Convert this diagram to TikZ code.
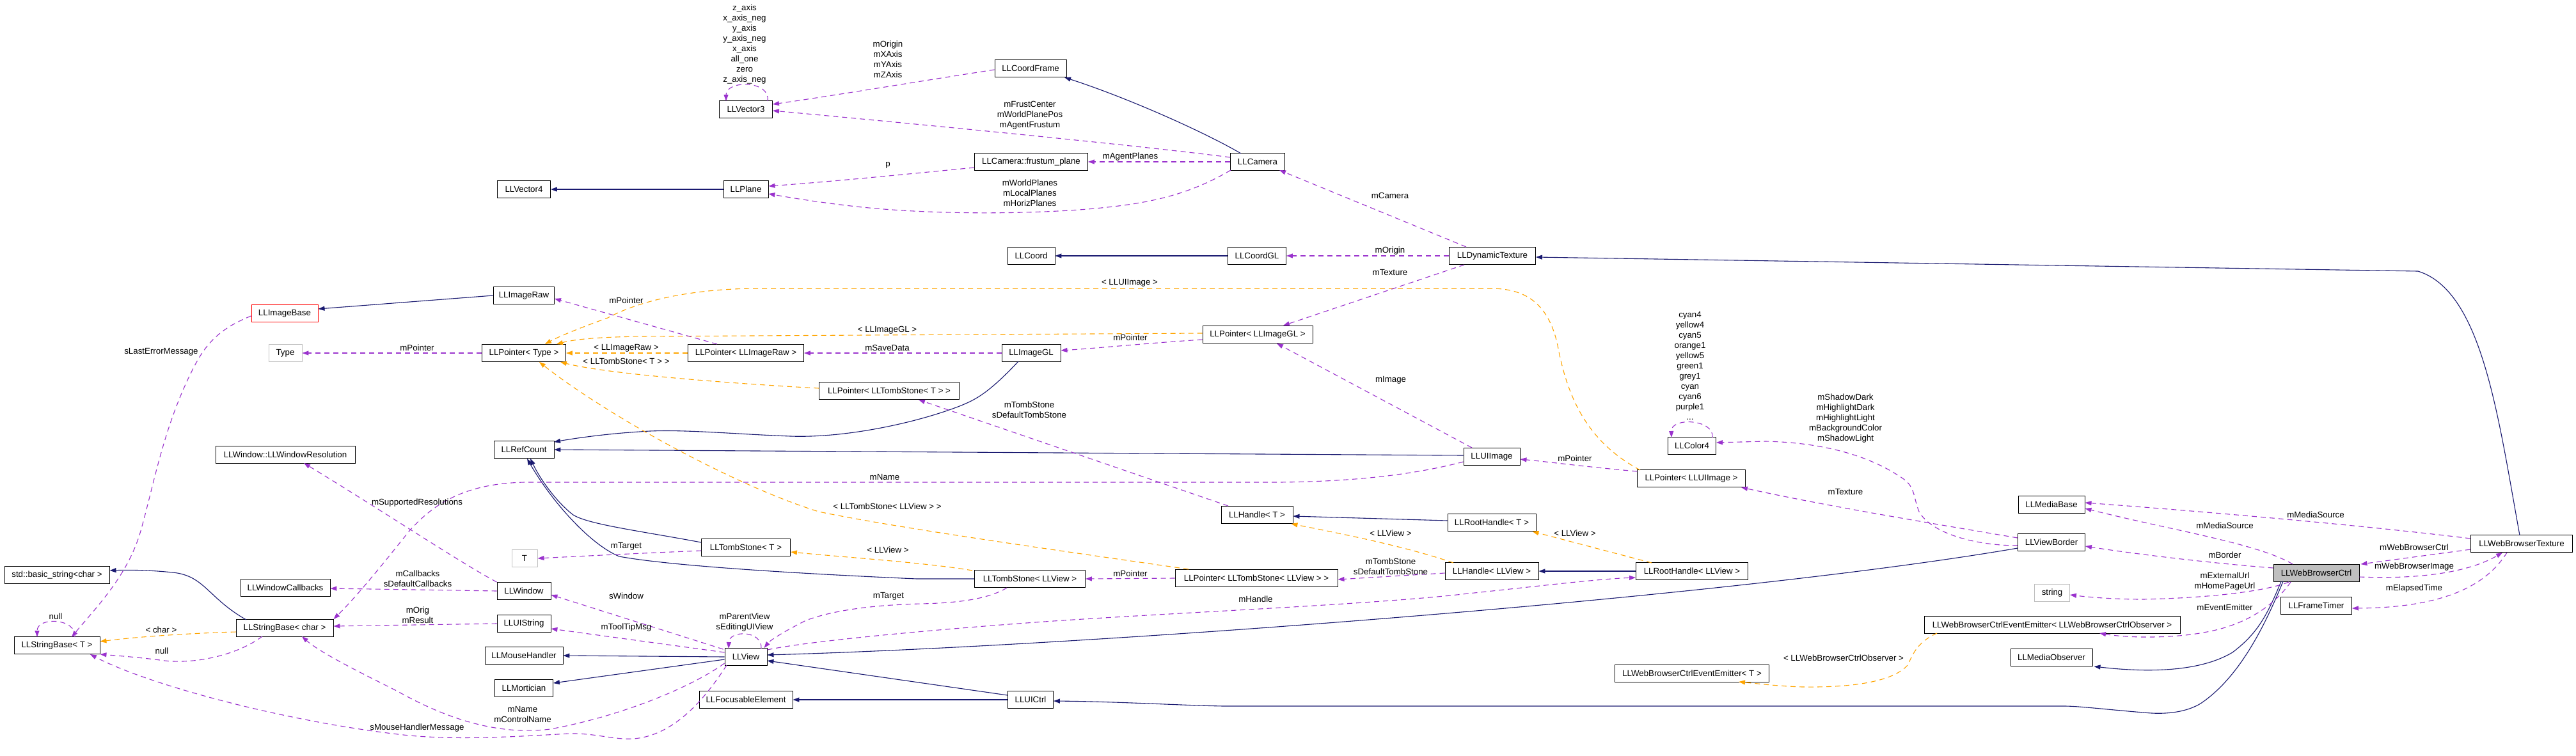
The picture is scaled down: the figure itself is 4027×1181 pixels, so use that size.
\documentclass[tikz,border=0pt]{standalone}
\usepackage{fontspec}
\setmainfont{Liberation Sans}
\usetikzlibrary{arrows.meta,calc}
\definecolor{inhc}{HTML}{191970}
\definecolor{usec}{HTML}{9A32CD}
\definecolor{tmpc}{HTML}{FFA500}
\definecolor{greyb}{HTML}{BFBFBF}
\newcommand\lblfont{\fontsize{13.3}{16}\selectfont}
\begin{document}
\begin{tikzpicture}[x=1pt,y=-1pt,
 cls/.style={draw=black,line width=0.9pt,fill=white,inner sep=0pt,minimum height=27pt,font=\lblfont},
 redb/.style={draw=red},
 greyd/.style={draw=greyb},
 hl/.style={fill=greyb},
 lab/.style={inner sep=0pt,align=center,font=\lblfont},
 inh/.style={draw=inhc,line width=1.1pt,-{Triangle[length=10pt,width=7pt]}},
 use/.style={draw=usec,line width=1.1pt,dash pattern=on 8pt off 6pt,-{Triangle[length=10pt,width=7pt]}},
 tmp/.style={draw=tmpc,line width=1.1pt,dash pattern=on 8pt off 6pt,-{Triangle[length=10pt,width=7pt]}}]
\useasboundingbox[fill=white] (0,0) rectangle (4027,1181);
% ---------------- nodes
\node[cls,minimum width=83pt] (LLVector3) at (1166,171) {LLVector3};
\node[cls,minimum width=112pt] (LLCoordFrame) at (1611,107) {LLCoordFrame};
\node[cls,minimum width=177pt] (LLCamerafp) at (1612,253) {LLCamera::frustum\_plane};
\node[cls,minimum width=70pt] (LLPlane) at (1166,296) {LLPlane};
\node[cls,minimum width=83pt] (LLVector4) at (819,296) {LLVector4};
\node[cls,minimum width=85pt] (LLCamera) at (1966,253) {LLCamera};
\node[cls,minimum width=74pt] (LLCoord) at (1612,400) {LLCoord};
\node[cls,minimum width=91pt] (LLCoordGL) at (1965,400) {LLCoordGL};
\node[cls,minimum width=135pt] (LLDynamicTexture) at (2333,400) {LLDynamicTexture};
\node[cls,minimum width=95pt] (LLImageRaw) at (819,462) {LLImageRaw};
\node[cls,redb,minimum width=104pt] (LLImageBase) at (445,490) {LLImageBase};
\node[cls,greyd,minimum width=52pt] (Type) at (446,552) {Type};
\node[cls,minimum width=131pt] (LLPointerType) at (819,552) {LLPointer< Type >};
\node[cls,minimum width=181pt] (LLPointerImageRaw) at (1166,552) {LLPointer< LLImageRaw >};
\node[cls,minimum width=92pt] (LLImageGL) at (1612,552) {LLImageGL};
\node[cls,minimum width=172pt] (LLPointerImageGL) at (1966,523) {LLPointer< LLImageGL >};
\node[cls,minimum width=219pt] (LLPointerTombT) at (1390,611) {LLPointer< LLTombStone< T > >};
\node[cls,minimum width=94pt] (LLRefCount) at (819,703) {LLRefCount};
\node[cls,minimum width=88pt] (LLUIImage) at (2332,714) {LLUIImage};
\node[cls,minimum width=75pt] (LLColor4) at (2645,697) {LLColor4};
\node[cls,minimum width=169pt] (LLPointerUIImage) at (2644,748) {LLPointer< LLUIImage >};
\node[cls,minimum width=218pt] (LLWindowResolution) at (446,711) {LLWindow::LLWindowResolution};
\node[cls,minimum width=112pt] (LLHandleT) at (1965,805) {LLHandle< T >};
\node[cls,minimum width=138pt] (LLRootHandleT) at (2332,817) {LLRootHandle< T >};
\node[cls,minimum width=139pt] (LLTombStoneT) at (1166,856) {LLTombStone< T >};
\node[cls,greyd,minimum width=40pt] (T) at (820,873) {T};
\node[cls,minimum width=146pt] (LLHandleView) at (2332,893) {LLHandle< LLView >};
\node[cls,minimum width=175pt] (LLRootHandleView) at (2645,893) {LLRootHandle< LLView >};
\node[cls,minimum width=173pt] (LLTombStoneView) at (1610,905) {LLTombStone< LLView >};
\node[cls,minimum width=254pt] (LLPointerTombView) at (1964,904) {LLPointer< LLTombStone< LLView > >};
\node[cls,minimum width=164pt] (stdbasicstring) at (89,899) {std::basic\_string<char >};
\node[cls,minimum width=140pt] (LLWindowCallbacks) at (446,919) {LLWindowCallbacks};
\node[cls,minimum width=84pt] (LLWindow) at (819,924) {LLWindow};
\node[cls,minimum width=84pt] (LLUIString) at (819,975) {LLUIString};
\node[cls,minimum width=152pt] (LLStringBaseChar) at (445,982) {LLStringBase< char >};
\node[cls,minimum width=134pt] (LLStringBaseT) at (89,1009) {LLStringBase< T >};
\node[cls,minimum width=122pt] (LLMouseHandler) at (819,1025) {LLMouseHandler};
\node[cls,minimum width=91pt] (LLMortician) at (819,1076) {LLMortician};
\node[cls,minimum width=66pt] (LLView) at (1166,1027) {LLView};
\node[cls,minimum width=146pt] (LLFocusableElement) at (1166,1094) {LLFocusableElement};
\node[cls,minimum width=71pt] (LLUICtrl) at (1611,1094) {LLUICtrl};
\node[cls,minimum width=104pt] (LLMediaBase) at (3207,789) {LLMediaBase};
\node[cls,minimum width=105pt] (LLViewBorder) at (3207,848) {LLViewBorder};
\node[cls,greyd,minimum width=55pt] (string) at (3208,927) {string};
\node[cls,minimum width=400pt] (EEObs) at (3208,977) {LLWebBrowserCtrlEventEmitter< LLWebBrowserCtrlObserver >};
\node[cls,minimum width=128pt] (LLMediaObserver) at (3207,1028) {LLMediaObserver};
\node[cls,minimum width=241pt] (EET) at (2645,1053) {LLWebBrowserCtrlEventEmitter< T >};
\node[cls,hl,minimum width=134pt] (LLWebBrowserCtrl) at (3621,896) {LLWebBrowserCtrl};
\node[cls,minimum width=111pt] (LLFrameTimer) at (3621,947) {LLFrameTimer};
\node[cls,minimum width=159pt] (LLWebBrowserTexture) at (3942,850) {LLWebBrowserTexture};
% ---------------- inheritance
\draw[inh] ($(LLCamera)+(-26,-13)$) .. controls (1880,205) and (1760,152) .. ($(LLCoordFrame)+(53,14)$);
\draw[inh] (LLPlane.west) -- (LLVector4.east);
\draw[inh] (LLCoordGL.west) -- (LLCoord.east);
\draw[inh] ($(LLWebBrowserTexture)+(-3,-13)$) .. controls (3905,650) and (3880,455) .. (3780,424) -- ($(LLDynamicTexture.east)+(0,2)$);
\draw[inh] (LLImageRaw.west) -- ($(LLImageBase.east)+(0,-7)$);
\draw[inh] ($(LLImageGL)+(-20,13)$) .. controls (1545,615) and (1525,625) .. (1500,635) .. controls (1430,662) and (1320,685) .. (1236,682) .. controls (1150,679) and (1060,670) .. (1000,675) .. controls (950,678) and (900,685) .. ($(LLRefCount)+(47,-12)$);
\draw[inh] ($(LLUIImage.west)+(0,-2)$) -- (LLRefCount.east);
\draw[inh] ($(LLTombStoneT.west)+(0,-8)$) .. controls (1000,830) and (920,820) .. (896,805) .. controls (870,785) and (845,750) .. ($(LLRefCount)+(10,14)$);
\draw[inh] (LLTombStoneView.west) -- (1433,905) .. controls (1250,897) and (1050,885) .. (968,870) .. controls (920,850) and (860,780) .. ($(LLRefCount)+(5,14)$);
\draw[inh] ($(LLRootHandleT.west)+(0,-3)$) -- ($(LLHandleT.east)+(0,2)$);
\draw[inh] (LLRootHandleView.west) -- (LLHandleView.east);
\draw[inh] (LLView.west) -- (LLMouseHandler.east);
\draw[inh] ($(LLView.west)+(0,4)$) -- ($(LLMortician.east)+(0,-8)$);
\draw[inh] ($(LLViewBorder.west)+(0,9)$) .. controls (2700,935) and (1700,1010) .. ($(LLView.east)+(0,-3)$);
\draw[inh] ($(LLUICtrl.west)+(0,-7)$) -- ($(LLView.east)+(0,6)$);
\draw[inh] (LLUICtrl.west) -- (LLFocusableElement.east);
\draw[inh] ($(LLWebBrowserCtrl)+(-52,13)$) .. controls (3540,980) and (3500,1060) .. (3440,1100) .. controls (3410,1118) and (3370,1116) .. (3351,1114) .. controls (3300,1110) and (3250,1104) .. (3228,1104) -- (1913,1104) .. controls (1850,1103) and (1750,1097) .. ($(LLUICtrl.east)+(0,2)$);
\draw[inh] ($(LLWebBrowserCtrl)+(-55,13)$) .. controls (3545,960) and (3530,990) .. (3490,1020) .. controls (3440,1050) and (3360,1052) .. ($(LLMediaObserver.south east)+(2,0)$);
\draw[inh] ($(LLStringBaseChar)+(-60,-13)$) .. controls (325,935) and (320,900) .. (270,895) .. controls (230,891) and (200,891) .. ($(stdbasicstring.east)+(0,-7)$);
% ---------------- templates
\draw[tmp] (LLPointerImageRaw.west) -- (LLPointerType.east);
\draw[tmp] ($(LLPointerTombT.west)+(0,-4)$) .. controls (1150,600) and (950,585) .. ($(LLPointerType.south east)+(-9,0)$);
\draw[tmp] ($(LLPointerImageGL.west)+(0,-2)$) -- (1000,526) .. controls (940,527) and (900,530) .. ($(LLPointerType.north east)+(-15,0)$);
\draw[tmp] ($(LLPointerUIImage)+(-80,-13)$) .. controls (2480,690) and (2450,620) .. (2435,540) .. controls (2420,470) and (2380,451) .. (2330,451) -- (1180,451) .. controls (1080,452) and (1000,470) .. (950,497) .. controls (900,515) and (870,528) .. ($(LLPointerType.north east)+(-33,0)$);
\draw[tmp] ($(LLPointerTombView)+(-106,-14)$) .. controls (1650,860) and (1400,825) .. (1280,800) .. controls (1150,760) and (950,650) .. ($(LLPointerType.south east)+(-42,0)$);
\draw[tmp] ($(LLTombStoneView)+(-90,-13)$) .. controls (1450,880) and (1330,872) .. ($(LLTombStoneT.east)+(0,7)$);
\draw[tmp] ($(LLHandleView)+(-60,-13)$) .. controls (2200,855) and (2100,835) .. ($(LLHandleT.south east)+(-3,0)$);
\draw[tmp] ($(LLRootHandleView)+(-63,-13)$) -- ($(LLRootHandleT.south east)+(-6,0)$);
\draw[tmp] ($(LLStringBaseChar.west)+(0,6)$) .. controls (300,990) and (220,995) .. ($(LLStringBaseT.east)+(0,-6)$);
\draw[tmp] ($(EEObs)+(-180,13)$) .. controls (2995,1005) and (2990,1025) .. (2982,1040) .. controls (2960,1065) and (2900,1075) .. (2818,1074) .. controls (2780,1073) and (2740,1068) .. ($(EET)+(73,13)$);
% ---------------- usage
\draw[use] ($(LLCoordFrame.west)+(0,2)$) .. controls (1450,125) and (1300,150) .. ($(LLVector3.east)+(0,-8)$);
\draw[use] ($(LLCamera.west)+(0,-7)$) .. controls (1800,230) and (1500,200) .. ($(LLVector3.east)+(0,2)$);
\draw[use] ($(LLVector3)+(34,-13)$) .. controls (1205,125) and (1135,125) .. ($(LLVector3)+(-31,-13)$);
\draw[use] (LLCamera.west) -- (LLCamerafp.east);
\draw[use] ($(LLCamerafp.west)+(0,9)$) .. controls (1420,272) and (1300,284) .. ($(LLPlane.east)+(0,-5)$);
\draw[use] ($(LLCamera)+(-42,13)$) .. controls (1850,310) and (1780,320) .. (1700,327) .. controls (1600,335) and (1450,336) .. (1330,322) .. controls (1270,315) and (1230,308) .. ($(LLPlane.east)+(0,7)$);
\draw[use] ($(LLDynamicTexture)+(-41,-14)$) -- ($(LLCamera)+(34,13)$);
\draw[use] (LLDynamicTexture.west) -- (LLCoordGL.east);
\draw[use] ($(LLDynamicTexture)+(-44,14)$) -- ($(LLPointerImageGL)+(40,-14)$);
\draw[use] ($(LLPointerImageGL.west)+(0,8)$) .. controls (1800,536) and (1720,544) .. ($(LLImageGL.east)+(0,-4)$);
\draw[use] (LLImageGL.west) -- (LLPointerImageRaw.east);
\draw[use] ($(LLPointerImageRaw)+(-45,-14)$) -- ($(LLImageRaw.east)+(0,5)$);
\draw[use] (LLPointerType.west) -- (Type.east);
\draw[use] ($(LLImageBase.west)+(0,4)$) .. controls (340,515) and (320,540) .. (300,580) .. controls (255,670) and (240,760) .. (220,830) .. controls (200,900) and (150,950) .. ($(LLStringBaseT)+(23,-13)$);
\draw[use] ($(LLStringBaseT)+(28,-13)$) .. controls (120,966) and (58,964) .. ($(LLStringBaseT)+(-31,-13)$);
\draw[use] ($(LLStringBaseChar)+(-35,13)$) .. controls (370,1025) and (300,1040) .. (250,1032) .. controls (210,1027) and (180,1025) .. (LLStringBaseT.south east);
\draw[use] (LLWindow.west) -- ($(LLWindowCallbacks.east)+(0,1)$);
\draw[use] (LLWindow.north west) .. controls (720,880) and (600,800) .. ($(LLWindowResolution)+(29,13)$);
\draw[use] (LLUIString.west) -- ($(LLStringBaseChar.east)+(0,-3)$);
\draw[use] ($(LLView.north west)+(-2,2)$) -- ($(LLWindow.east)+(0,6)$);
\draw[use] ($(LLView.west)+(0,-7)$) -- ($(LLUIString.east)+(0,8)$);
\draw[use] ($(LLView)+(24,-13)$) .. controls (1192,985) and (1140,985) .. ($(LLView)+(-27,-13)$);
\draw[use] ($(LLTombStoneView)+(-36,14)$) .. controls (1540,940) and (1480,943) .. (1440,944) .. controls (1360,946) and (1300,955) .. (1260,970) .. controls (1230,985) and (1205,1000) .. ($(LLView.north east)+(-5,0)$);
\draw[use] ($(LLView.east)+(0,-11)$) .. controls (1260,1003) and (1450,985) .. (1632,972) .. controls (1850,957) and (2150,945) .. (2295,928) .. controls (2400,917) and (2500,905) .. ($(LLRootHandleView.west)+(0,10)$);
\draw[use] ($(LLView.west)+(0,10)$) .. controls (1080,1075) and (970,1120) .. (860,1140) .. controls (780,1150) and (700,1125) .. (620,1080) .. controls (560,1050) and (500,1020) .. ($(LLStringBaseChar)+(27,13)$);
\draw[use] ($(LLView)+(-30,13)$) .. controls (1110,1080) and (1060,1150) .. (990,1155) .. controls (960,1157) and (930,1146) .. (890,1147) .. controls (800,1152) and (720,1157) .. (640,1150) .. controls (450,1130) and (230,1070) .. ($(LLStringBaseT)+(52,14)$);
\draw[use] ($(LLUIImage.west)+(0,8)$) .. controls (2200,745) and (2100,753) .. (2000,754) -- (820,754) .. controls (730,756) and (680,785) .. (640,830) .. controls (600,880) and (560,930) .. (LLStringBaseChar.north east);
\draw[use] ($(LLPointerUIImage.west)+(0,-11)$) .. controls (2480,730) and (2420,722) .. ($(LLUIImage.east)+(0,4)$);
\draw[use] ($(LLUIImage)+(-31,-14)$) -- ($(LLPointerImageGL)+(30,14)$);
\draw[use] ($(LLHandleT)+(-45,-14)$) -- ($(LLPointerTombT)+(46,14)$);
\draw[use] ($(LLHandleView.west)+(0,3)$) -- ($(LLPointerTombView.east)+(0,2)$);
\draw[use] (LLPointerTombView.west) -- (LLTombStoneView.east);
\draw[use] ($(LLTombStoneT.west)+(0,5)$) .. controls (1000,865) and (900,870) .. (T.east);
\draw[use] ($(LLViewBorder.west)+(0,5)$) .. controls (3090,853) and (3020,835) .. (3000,800) .. controls (2990,775) and (2995,760) .. (2970,745) .. controls (2920,712) and (2850,692) .. (2760,690) -- ($(LLColor4.east)+(0,-5)$);
\draw[use] ($(LLViewBorder.west)+(0,-7)$) .. controls (3000,815) and (2850,790) .. ($(LLPointerUIImage)+(78,14)$);
\draw[use] ($(LLColor4)+(32,-13)$) .. controls (2680,655) and (2612,652) .. ($(LLColor4)+(-32,-13)$);
\draw[use] ($(LLWebBrowserCtrl)+(-37,-14)$) .. controls (3530,850) and (3400,830) .. ($(LLMediaBase.east)+(0,6)$);
\draw[use] ($(LLWebBrowserTexture.west)+(0,-8)$) .. controls (3700,822) and (3450,800) .. ($(LLMediaBase.east)+(0,-3)$);
\draw[use] ($(LLWebBrowserCtrl.west)+(0,-8)$) .. controls (3450,880) and (3330,865) .. ($(LLViewBorder.east)+(0,6)$);
\draw[use] ($(LLWebBrowserCtrl)+(-43,14)$) .. controls (3540,925) and (3450,935) .. (3350,937) .. controls (3300,937) and (3260,933) .. ($(string.east)+(0,3)$);
\draw[use] ($(LLWebBrowserCtrl)+(-40,14)$) .. controls (3560,940) and (3520,975) .. (3450,988) .. controls (3400,998) and (3330,998) .. ($(EEObs)+(74,13)$);
\draw[use] ($(LLWebBrowserTexture.west)+(0,9)$) -- ($(LLWebBrowserCtrl.north east)+(2,0)$);
\draw[use] ($(LLWebBrowserCtrl.east)+(0,6)$) .. controls (3760,905) and (3850,900) .. ($(LLWebBrowserTexture)+(-30,14)$);
\draw[use] ($(LLWebBrowserTexture)+(-23,14)$) .. controls (3890,910) and (3830,950) .. ($(LLFrameTimer.east)+(0,4)$);
% ---------------- labels
\node[lab] (lV3) at (1164,69) {z\_axis\\x\_axis\_neg\\y\_axis\\y\_axis\_neg\\x\_axis\\all\_one\\zero\\z\_axis\_neg};
\node[lab] (lCF) at (1388,93) {mOrigin\\mXAxis\\mYAxis\\mZAxis};
\node[lab] (lFC) at (1610,180) {mFrustCenter\\mWorldPlanePos\\mAgentFrustum};
\node[lab] (lAP) at (1767,245) {mAgentPlanes};
\node[lab] (lp) at (1388,258) {p};
\node[lab] (lWP) at (1610,302) {mWorldPlanes\\mLocalPlanes\\mHorizPlanes};
\node[lab] (lCam) at (2173,306) {mCamera};
\node[lab] (lOr) at (2173,392) {mOrigin};
\node[lab] (lTex) at (2173,426) {mTexture};
\node[lab] (lUII) at (1766,442) {< LLUIImage >};
\node[lab] (lIGL) at (1387,516) {< LLImageGL >};
\node[lab] (lPtr1) at (1767,528) {mPointer};
\node[lab] (lSD) at (1387,544) {mSaveData};
\node[lab] (lIR) at (979,544) {< LLImageRaw >};
\node[lab] (lTST) at (979,565) {< LLTombStone< T > >};
\node[lab] (lPtr2) at (652,544) {mPointer};
\node[lab] (lLEM) at (252,550) {sLastErrorMessage};
\node[lab] (lPtr3) at (979,470) {mPointer};
\node[lab] (lImg) at (2174,594) {mImage};
\node[lab] (lTS1) at (1609,641) {mTombStone\\sDefaultTombStone};
\node[lab] (lPtr4) at (2462,717) {mPointer};
\node[lab] (lCol) at (2642,572) {cyan4\\yellow4\\cyan5\\orange1\\yellow5\\green1\\grey1\\cyan\\cyan6\\purple1\\...};
\node[lab] (lName) at (1383,746) {mName};
\node[lab] (lSR) at (652,786) {mSupportedResolutions};
\node[lab] (lTSV) at (1387,792) {< LLTombStone< LLView > >};
\node[lab] (lSh) at (2885,654) {mShadowDark\\mHighlightDark\\mHighlightLight\\mBackgroundColor\\mShadowLight};
\node[lab] (lTex2) at (2885,769) {mTexture};
\node[lab] (lMS1) at (3620,805) {mMediaSource};
\node[lab] (lMS2) at (3478,822) {mMediaSource};
\node[lab] (lV1) at (2174,834) {< LLView >};
\node[lab] (lV2) at (2462,834) {< LLView >};
\node[lab] (lTgt1) at (979,854) {mTarget};
\node[lab] (lWBC) at (3774,856) {mWebBrowserCtrl};
\node[lab] (lV3b) at (1388,860) {< LLView >};
\node[lab] (lBor) at (3478,868) {mBorder};
\node[lab] (lTS2) at (2174,886) {mTombStone\\sDefaultTombStone};
\node[lab] (lWBI) at (3774,886) {mWebBrowserImage};
\node[lab] (lPtr5) at (1767,897) {mPointer};
\node[lab] (lCB) at (653,905) {mCallbacks\\sDefaultCallbacks};
\node[lab] (lURL) at (3478,909) {mExternalUrl\\mHomePageUrl};
\node[lab] (lElT) at (3774,920) {mElapsedTime};
\node[lab] (lTgt2) at (1389,932) {mTarget};
\node[lab] (lWin) at (979,932) {sWindow};
\node[lab] (lHdl) at (1963,937) {mHandle};
\node[lab] (lEE) at (3478,950) {mEventEmitter};
\node[lab] (lOR) at (653,962) {mOrig\\mResult};
\node[lab] (lNull1) at (87,964) {null};
\node[lab] (lPV) at (1164,973) {mParentView\\sEditingUIView};
\node[lab] (lTT) at (979,981) {mToolTipMsg};
\node[lab] (lChar) at (252,985) {< char >};
\node[lab] (lNull2) at (253,1018) {null};
\node[lab] (lObs) at (2882,1029) {< LLWebBrowserCtrlObserver >};
\node[lab] (lCN) at (817,1117) {mName\\mControlName};
\node[lab] (lMHM) at (652,1138) {sMouseHandlerMessage};
\end{tikzpicture}
\end{document}
